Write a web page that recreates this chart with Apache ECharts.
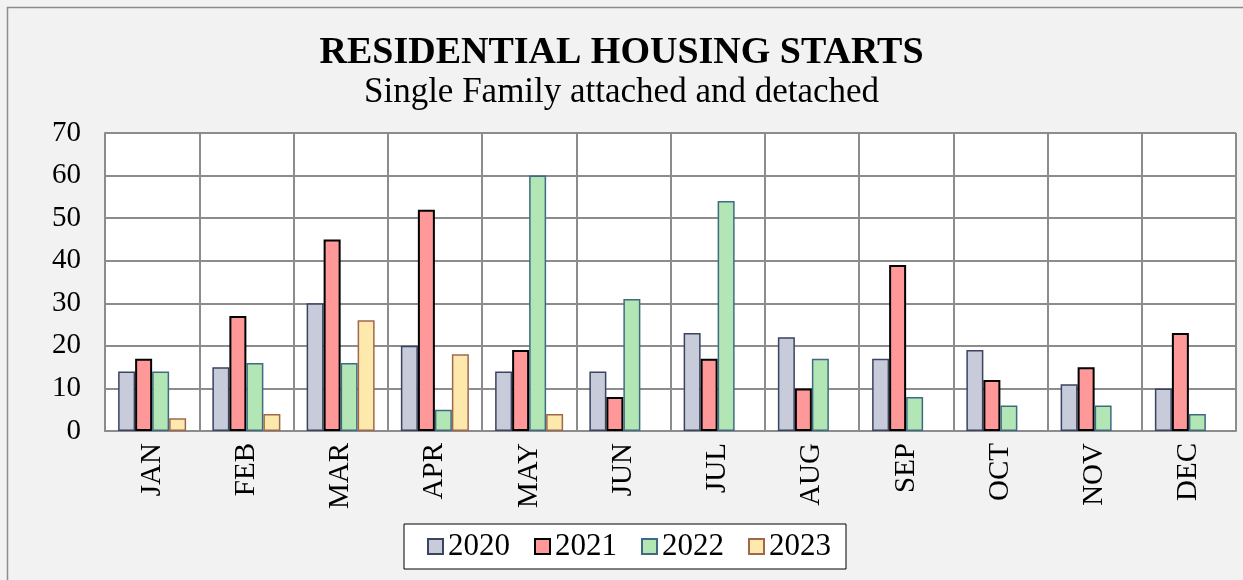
<!DOCTYPE html>
<html lang="en" style="height: 100%">
<head>
    <meta charset="UTF-8">
    <title>Residential Housing Starts</title>
    <script src="https://cdn.jsdelivr.net/npm/echarts@6/dist/echarts.min.js"></script>
</head>
<body style="height: 100%; margin: 0; background: #f2f2f2">
<div id="container" style="width: 1243px; height: 580px"></div>

<script type="text/javascript">
    var months = ['JAN', 'FEB', 'MAR', 'APR', 'MAY', 'JUN', 'JUL', 'AUG', 'SEP', 'OCT', 'NOV', 'DEC'];
    var years = ['2020', '2021', '2022', '2023'];
    var starts2020 = [14, 15, 30, 20, 14, 14, 23, 22, 17, 19, 11, 10];
    var starts2021 = [17, 27, 45, 52, 19, 8, 17, 10, 39, 12, 15, 23];
    var starts2022 = [14, 16, 16, 5, 60, 31, 54, 17, 8, 6, 6, 4];
    var starts2023 = [3, 4, 26, 18, 4, null, null, null, null, null, null, null];

    var fills = ['#c8cbda', '#ff9999', '#b3e6b5', '#fde9ac'];
    var borders = ['#3a4360', '#000000', '#3f6a82', '#a0674f'];
    var font = '"Liberation Serif", "DejaVu Serif", serif';

    var dom = document.getElementById("container");
    var myChart = echarts.init(dom, null, {renderer: 'canvas'});

    function makeSeries(i, data) {
        return {
            name: years[i],
            type: 'bar',
            data: data,
            barWidth: 17,
            barGap: '0%',
            itemStyle: {color: fills[i], borderColor: borders[i], borderWidth: i === 1 ? 2 : 1.5}
        };
    }

    var option = {
        backgroundColor: '#f2f2f2',
        animation: false,
        graphic: [{
            type: 'rect',
            shape: {x: 7.5, y: 7.5, width: 1240, height: 580},
            style: {fill: 'none', stroke: '#8c8c8c', lineWidth: 1.5}
        }],
        title: {
            text: 'RESIDENTIAL HOUSING STARTS',
            subtext: 'Single Family attached and detached',
            left: 'center',
            top: 29,
            itemGap: 3,
            textStyle: {fontFamily: font, fontSize: 38, fontWeight: 'bold', color: '#000'},
            subtextStyle: {fontFamily: font, fontSize: 35, color: '#000'}
        },
        legend: {
            data: years,
            icon: 'rect',
            bottom: 11,
            left: 404,
            itemWidth: 15,
            itemHeight: 15,
            itemGap: 24,
            padding: [7, 15, 7, 23],
            backgroundColor: '#fff',
            borderColor: '#000',
            borderWidth: 1,
            borderRadius: 0,
            textStyle: {fontFamily: font, fontSize: 31, color: '#000'}
        },
        grid: {
            left: 105, right: 7, top: 133, bottom: 149, containLabel: false,
            show: true, backgroundColor: '#ffffff', borderWidth: 0
        },
        xAxis: {
            type: 'category',
            data: months,
            axisLine: {lineStyle: {color: '#8c8c8c', width: 2}},
            axisTick: {show: false},
            splitLine: {show: true, interval: 0, lineStyle: {color: '#8c8c8c', width: 2}},
            axisLabel: {
                rotate: 90, interval: 0, margin: 12,
                fontFamily: font, fontSize: 29, color: '#000'
            }
        },
        yAxis: {
            type: 'value',
            min: 0,
            max: 70,
            interval: 10,
            axisLine: {show: true, lineStyle: {color: '#8c8c8c', width: 2}},
            axisTick: {show: false},
            splitLine: {lineStyle: {color: '#8c8c8c', width: 2}},
            axisLabel: {fontFamily: font, fontSize: 29, color: '#000', margin: 24}
        },
        series: [
            makeSeries(0, starts2020),
            makeSeries(1, starts2021),
            makeSeries(2, starts2022),
            makeSeries(3, starts2023)
        ]
    };
    myChart.setOption(option, true);
</script>
</body>
</html>
